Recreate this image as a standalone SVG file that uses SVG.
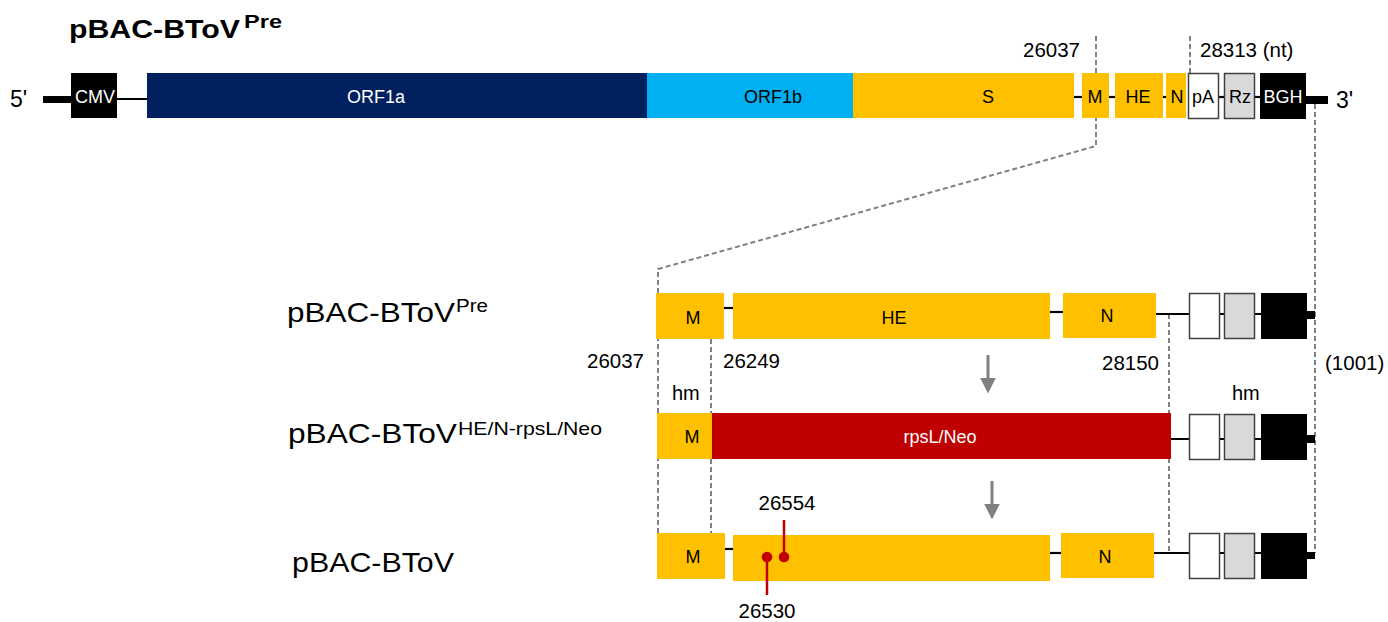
<svg xmlns="http://www.w3.org/2000/svg" width="1388" height="622" viewBox="0 0 1388 622">
<style>
text{font-family:"Liberation Sans",Arial,sans-serif;fill:#000}
.lbl{font-size:18px;text-anchor:middle}
.w{fill:#fff}
.num{font-size:20.5px}
.big{font-size:28px}
.sup{font-size:19px}
.dash{stroke:#808080;stroke-width:2;stroke-dasharray:5,3;fill:none}
.ln{stroke:#000;stroke-width:2.2;fill:none}
.thick{fill:#000}
.or{fill:#FFC000}
.box{stroke:#404040;stroke-width:1.5}
.red{stroke:#C00000;stroke-width:2.5}
.arr{stroke:#808080;stroke-width:3}
</style>
<defs>
<marker id="ah" viewBox="0 0 10 10" refX="0" refY="5" markerWidth="5.2" markerHeight="5.2" markerUnits="strokeWidth" orient="auto">
<path d="M0,0 L10,5 L0,10 z" fill="#808080"/>
</marker>
</defs>

<!-- title -->
<g id="title">
<text x="69" y="38" textLength="171" lengthAdjust="spacingAndGlyphs" style="font-size:26px;font-weight:bold">pBAC-BToV</text>
<text x="244" y="28" textLength="38" lengthAdjust="spacingAndGlyphs" style="font-size:18px;font-weight:bold">Pre</text>
</g>

<!-- connectors (dashed guide lines, arrows) -->
<g id="connectors">
<path class="dash" d="M1096,36 V146 L658,269 V533"/>
<path class="dash" d="M1190,36 V73"/>
<path class="dash" d="M711,339 V533"/>
<path class="dash" d="M1169,314 V553"/>
<path class="dash" d="M1315,104 V553"/>
<line class="arr" x1="988" y1="355" x2="988" y2="378" marker-end="url(#ah)"/>
<line class="arr" x1="992" y1="481" x2="992" y2="504" marker-end="url(#ah)"/>
</g>

<!-- top genome map -->
<g id="genome">
<text x="10" y="107" style="font-size:23px">5'</text>
<rect class="thick" x="43" y="96" width="30" height="7"/>
<line class="ln" x1="115" y1="99" x2="150" y2="99"/>
<line class="ln" x1="1072" y1="97" x2="1084" y2="97"/>
<line class="ln" x1="1107" y1="97" x2="1117" y2="97"/>
<line class="ln" x1="1161" y1="97" x2="1168" y2="97"/>
<line class="ln" x1="1218" y1="97" x2="1226" y2="97"/>
<line class="ln" x1="1252" y1="97" x2="1262" y2="97"/>
<rect class="thick" x="1304" y="96" width="24" height="8"/>
<text x="1336" y="108" style="font-size:23px">3'</text>
<g id="cmv"><rect x="71" y="73" width="46" height="45" fill="#000"/><text class="lbl w" x="95" y="103">CMV</text></g>
<g id="orf1a"><rect x="147" y="73" width="501" height="45" fill="#002060"/><text class="lbl w" x="376" y="103">ORF1a</text></g>
<g id="orf1b"><rect x="647" y="73" width="207" height="45" fill="#00B0F0"/><text class="lbl" x="773" y="103">ORF1b</text></g>
<g id="s"><rect class="or" x="853" y="73" width="221" height="45"/><text class="lbl" x="988" y="103">S</text></g>
<g id="m"><rect class="or" x="1082" y="73" width="27" height="45"/><text class="lbl" x="1095" y="103">M</text></g>
<g id="he"><rect class="or" x="1115" y="73" width="48" height="45"/><text class="lbl" x="1138" y="103">HE</text></g>
<g id="n"><rect class="or" x="1166" y="73" width="20" height="45"/><text class="lbl" x="1177" y="103">N</text></g>
<g id="pa"><rect class="box" x="1188.5" y="73.5" width="30" height="45" fill="#fff"/><text class="lbl" x="1203" y="103">pA</text></g>
<g id="rz"><rect class="box" x="1224.5" y="73.5" width="30" height="45" fill="#D9D9D9"/><text class="lbl" x="1240" y="103">Rz</text></g>
<g id="bgh"><rect x="1260" y="73" width="46" height="46" fill="#000"/><text class="lbl w" x="1283" y="103">BGH</text></g>
<text class="num" x="1023" y="57">26037</text>
<text class="num" x="1200" y="57">28313 (nt)</text>
</g>

<!-- row 2 : pBAC-BToV Pre -->
<g id="row-pre">
<text class="big" x="287" y="322" textLength="168" lengthAdjust="spacingAndGlyphs">pBAC-BToV</text>
<text class="sup" x="456" y="312" textLength="32" lengthAdjust="spacingAndGlyphs">Pre</text>
<line class="ln" x1="722" y1="308" x2="735" y2="308"/>
<line class="ln" x1="1048" y1="312" x2="1065" y2="312"/>
<line class="ln" x1="1154" y1="314" x2="1264" y2="314"/>
<rect class="or" x="656" y="293" width="68" height="46"/><text class="lbl" x="693" y="324">M</text>
<rect class="or" x="733" y="293" width="317" height="46"/><text class="lbl" x="894" y="324">HE</text>
<rect class="or" x="1063" y="293" width="93" height="45"/><text class="lbl" x="1107" y="322">N</text>
<rect class="box" x="1189.5" y="293.5" width="30" height="45" fill="#fff"/>
<rect class="box" x="1224.5" y="293.5" width="30" height="45" fill="#D9D9D9"/>
<rect x="1261" y="293" width="46" height="46" fill="#000"/>
<rect class="thick" x="1305" y="311" width="10" height="8"/>
<text class="num" x="587" y="368">26037</text>
<text class="num" x="723" y="368">26249</text>
<text class="num" x="1102" y="370">28150</text>
<text class="num" x="1325" y="370">(1001)</text>
<text x="672" y="400" style="font-size:20px">hm</text>
<text x="1232" y="400" style="font-size:20px">hm</text>
</g>

<!-- row 3 : rpsL/Neo intermediate -->
<g id="row-rpsl">
<text class="big" x="288" y="443" textLength="169" lengthAdjust="spacingAndGlyphs">pBAC-BToV</text>
<text class="sup" x="458" y="435" textLength="144" lengthAdjust="spacingAndGlyphs">HE/N-rpsL/Neo</text>
<line class="ln" x1="1169" y1="439" x2="1264" y2="439"/>
<rect class="or" x="657" y="413" width="56" height="46"/><text class="lbl" x="692" y="443">M</text>
<rect x="712" y="413" width="459" height="46" fill="#C00000"/><text class="lbl w" x="940" y="443">rpsL/Neo</text>
<rect class="box" x="1189.5" y="414.5" width="30" height="45" fill="#fff"/>
<rect class="box" x="1224.5" y="414.5" width="30" height="45" fill="#D9D9D9"/>
<rect x="1261" y="414" width="46" height="46" fill="#000"/>
<rect class="thick" x="1305" y="435" width="10" height="8"/>
</g>

<!-- row 4 : pBAC-BToV -->
<g id="row-final">
<text class="big" x="292" y="572" textLength="162" lengthAdjust="spacingAndGlyphs">pBAC-BToV</text>
<line class="ln" x1="723" y1="549" x2="735" y2="549"/>
<line class="ln" x1="1048" y1="553" x2="1063" y2="553"/>
<line class="ln" x1="1152" y1="553" x2="1264" y2="553"/>
<rect class="or" x="657" y="533" width="68" height="46"/><text class="lbl" x="693" y="563">M</text>
<rect class="or" x="733" y="535" width="317" height="46"/>
<rect class="or" x="1061" y="533" width="93" height="45"/><text class="lbl" x="1105" y="563">N</text>
<rect class="box" x="1189.5" y="533.5" width="30" height="45" fill="#fff"/>
<rect class="box" x="1224.5" y="533.5" width="30" height="45" fill="#D9D9D9"/>
<rect x="1261" y="533" width="46" height="46" fill="#000"/>
<rect class="thick" x="1305" y="552" width="10" height="7"/>
<line class="red" x1="767" y1="557" x2="767" y2="595"/>
<circle cx="767" cy="557" r="5.3" fill="#C00000"/>
<line class="red" x1="784" y1="520" x2="784" y2="557"/>
<circle cx="784" cy="557" r="5.3" fill="#C00000"/>
<text class="num" x="787" y="510" text-anchor="middle">26554</text>
<text class="num" x="767" y="618" text-anchor="middle">26530</text>
</g>
</svg>
